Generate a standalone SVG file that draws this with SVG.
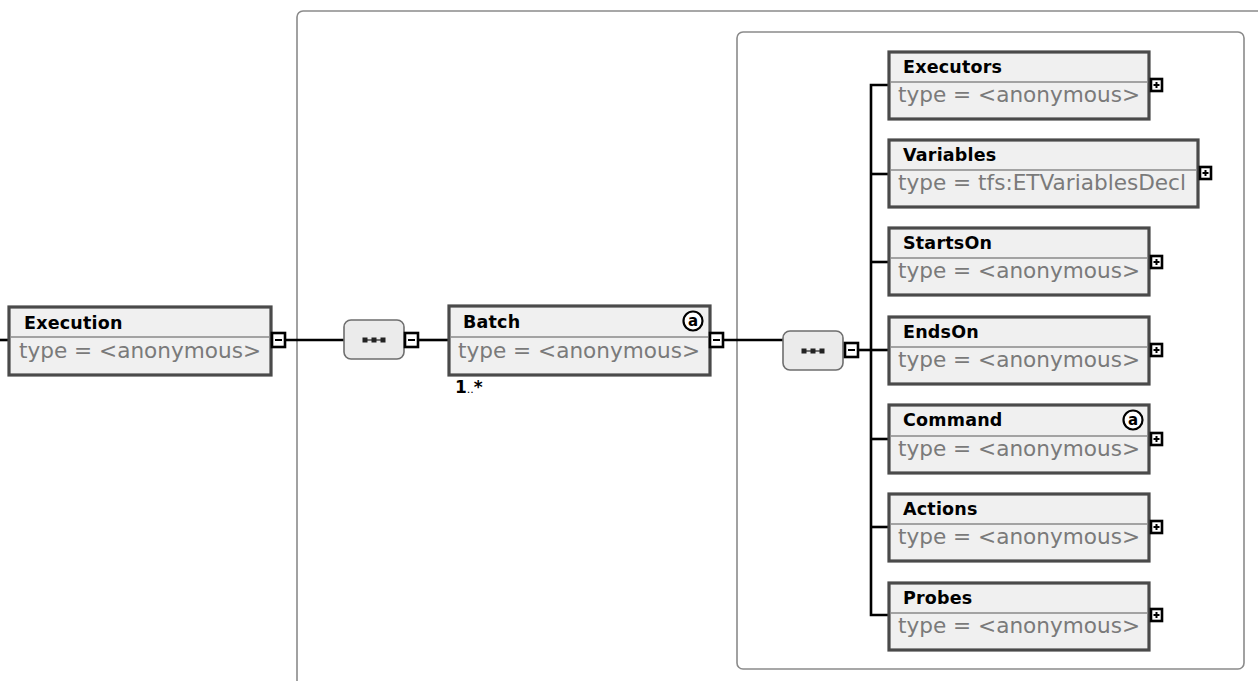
<svg xmlns="http://www.w3.org/2000/svg" width="1258" height="681" viewBox="0 0 1258 681">
<defs>
<style>
.box{fill:none;stroke:#8a8a8a;stroke-width:1.6}
.node{fill:#f0f0f0;stroke:#4a4a4a;stroke-width:3.2}
.div{stroke:#8a8a8a;stroke-width:1.6}
.title{font-family:"DejaVu Sans",sans-serif;font-weight:bold;font-size:17.5px;fill:#000;letter-spacing:0.2px}
.type{font-family:"DejaVu Sans",sans-serif;font-size:21.6px;fill:#7a7a7a}
.conn{stroke:#000;stroke-width:2.6;fill:none}
.tog{fill:#fff;stroke:#000;stroke-width:2.6}
.seq{fill:#ebebeb;stroke:#6e6e6e;stroke-width:1.6}
.attr{fill:#fff;stroke:#000;stroke-width:2.2}
.attrt{font-family:"DejaVu Sans",sans-serif;font-weight:bold;font-size:15px;fill:#000}
</style>
<g id="minus"><rect class="tog" x="0" y="0" width="13" height="14"/><line x1="3" y1="7" x2="10" y2="7" stroke="#000" stroke-width="2"/></g>
<g id="plus"><rect class="tog" x="0" y="0" width="11" height="12"/><line x1="2.5" y1="6" x2="8.5" y2="6" stroke="#000" stroke-width="2"/><line x1="5.5" y1="3" x2="5.5" y2="9" stroke="#000" stroke-width="2"/></g>
<g id="dots"><line x1="-10" y1="0" x2="10" y2="0" stroke="#222" stroke-width="1.2"/><rect x="-11.5" y="-2.5" width="5" height="5" fill="#222"/><rect x="-2.5" y="-2.5" width="5" height="5" fill="#222"/><rect x="6.5" y="-2.5" width="5" height="5" fill="#222"/></g>
<g id="attrIcon"><circle class="attr" cx="0" cy="0" r="9.5"/><text class="attrt" x="0" y="5" text-anchor="middle">a</text></g>
</defs>
<rect width="1258" height="681" fill="#fff"/>
<g id="groups">
<rect class="box" x="297" y="11" width="1000" height="720" rx="6"/>
<rect class="box" x="737" y="32" width="507" height="637" rx="6"/>
</g>
<g id="connectors">
<line class="conn" x1="0" y1="340" x2="9" y2="340"/>
<line class="conn" x1="285" y1="340" x2="344" y2="340"/>
<line class="conn" x1="418" y1="340" x2="449" y2="340"/>
<line class="conn" x1="723" y1="340" x2="784" y2="340"/>
<line class="conn" x1="858" y1="350" x2="871" y2="350"/>
<path class="conn" d="M889,85 H871 V615 H889"/>
<line class="conn" x1="871" y1="174" x2="889" y2="174"/>
<line class="conn" x1="871" y1="262" x2="889" y2="262"/>
<line class="conn" x1="871" y1="350" x2="889" y2="350"/>
<line class="conn" x1="871" y1="439" x2="889" y2="439"/>
<line class="conn" x1="871" y1="527" x2="889" y2="527"/>
</g>
<g id="seq1">
<rect class="seq" x="344" y="320" width="60" height="39" rx="7"/>
<use href="#dots" x="374" y="340"/>
<use href="#minus" x="405" y="333"/>
</g>
<g id="seq2">
<rect class="seq" x="783" y="331" width="60" height="39" rx="7"/>
<use href="#dots" x="813" y="351"/>
<use href="#minus" x="845" y="343"/>
</g>
<g id="execution">
<rect class="node" x="9" y="307" width="262" height="68"/>
<line class="div" x1="10.5" y1="337" x2="269.5" y2="337"/>
<text class="title" x="24" y="329">Execution</text>
<text class="type" x="19" y="358">type = &lt;anonymous&gt;</text>
<use href="#minus" x="272" y="333"/>
</g>
<g id="batch">
<rect class="node" x="449" y="306" width="261" height="69"/>
<line class="div" x1="450.5" y1="337" x2="708.5" y2="337"/>
<text class="title" x="463" y="328">Batch</text>
<use href="#attrIcon" x="693" y="321"/>
<text class="type" x="458" y="358">type = &lt;anonymous&gt;</text>
<use href="#minus" x="710" y="333"/>
<text font-family="DejaVu Sans, sans-serif" font-weight="bold" font-size="17" x="455" y="393">1<tspan font-size="11" font-weight="normal">..</tspan>*</text>
</g>
<g id="executors">
<rect class="node" x="889" y="52" width="260" height="67"/>
<line class="div" x1="890.5" y1="82" x2="1147.5" y2="82"/>
<text class="title" x="903" y="73">Executors</text>
<text class="type" x="898" y="102">type = &lt;anonymous&gt;</text>
<use href="#plus" x="1151" y="79"/>
</g>
<g id="variables">
<rect class="node" x="889" y="140" width="309" height="67"/>
<line class="div" x1="890.5" y1="170" x2="1196.5" y2="170"/>
<text class="title" x="903" y="161">Variables</text>
<text class="type" x="898" y="190">type = tfs:ETVariablesDecl</text>
<use href="#plus" x="1200" y="167"/>
</g>
<g id="startson">
<rect class="node" x="889" y="228" width="260" height="67"/>
<line class="div" x1="890.5" y1="258" x2="1147.5" y2="258"/>
<text class="title" x="903" y="249">StartsOn</text>
<text class="type" x="898" y="278">type = &lt;anonymous&gt;</text>
<use href="#plus" x="1151" y="256"/>
</g>
<g id="endson">
<rect class="node" x="889" y="317" width="260" height="67"/>
<line class="div" x1="890.5" y1="347" x2="1147.5" y2="347"/>
<text class="title" x="903" y="338">EndsOn</text>
<text class="type" x="898" y="367">type = &lt;anonymous&gt;</text>
<use href="#plus" x="1151" y="344"/>
</g>
<g id="command">
<rect class="node" x="889" y="405" width="260" height="68"/>
<line class="div" x1="890.5" y1="436" x2="1147.5" y2="436"/>
<text class="title" x="903" y="426">Command</text>
<use href="#attrIcon" x="1133" y="420"/>
<text class="type" x="898" y="456">type = &lt;anonymous&gt;</text>
<use href="#plus" x="1151" y="433"/>
</g>
<g id="actions">
<rect class="node" x="889" y="494" width="260" height="67"/>
<line class="div" x1="890.5" y1="524" x2="1147.5" y2="524"/>
<text class="title" x="903" y="515">Actions</text>
<text class="type" x="898" y="544">type = &lt;anonymous&gt;</text>
<use href="#plus" x="1151" y="521"/>
</g>
<g id="probes">
<rect class="node" x="889" y="583" width="260" height="67"/>
<line class="div" x1="890.5" y1="613" x2="1147.5" y2="613"/>
<text class="title" x="903" y="604">Probes</text>
<text class="type" x="898" y="633">type = &lt;anonymous&gt;</text>
<use href="#plus" x="1151" y="609"/>
</g>
</svg>
